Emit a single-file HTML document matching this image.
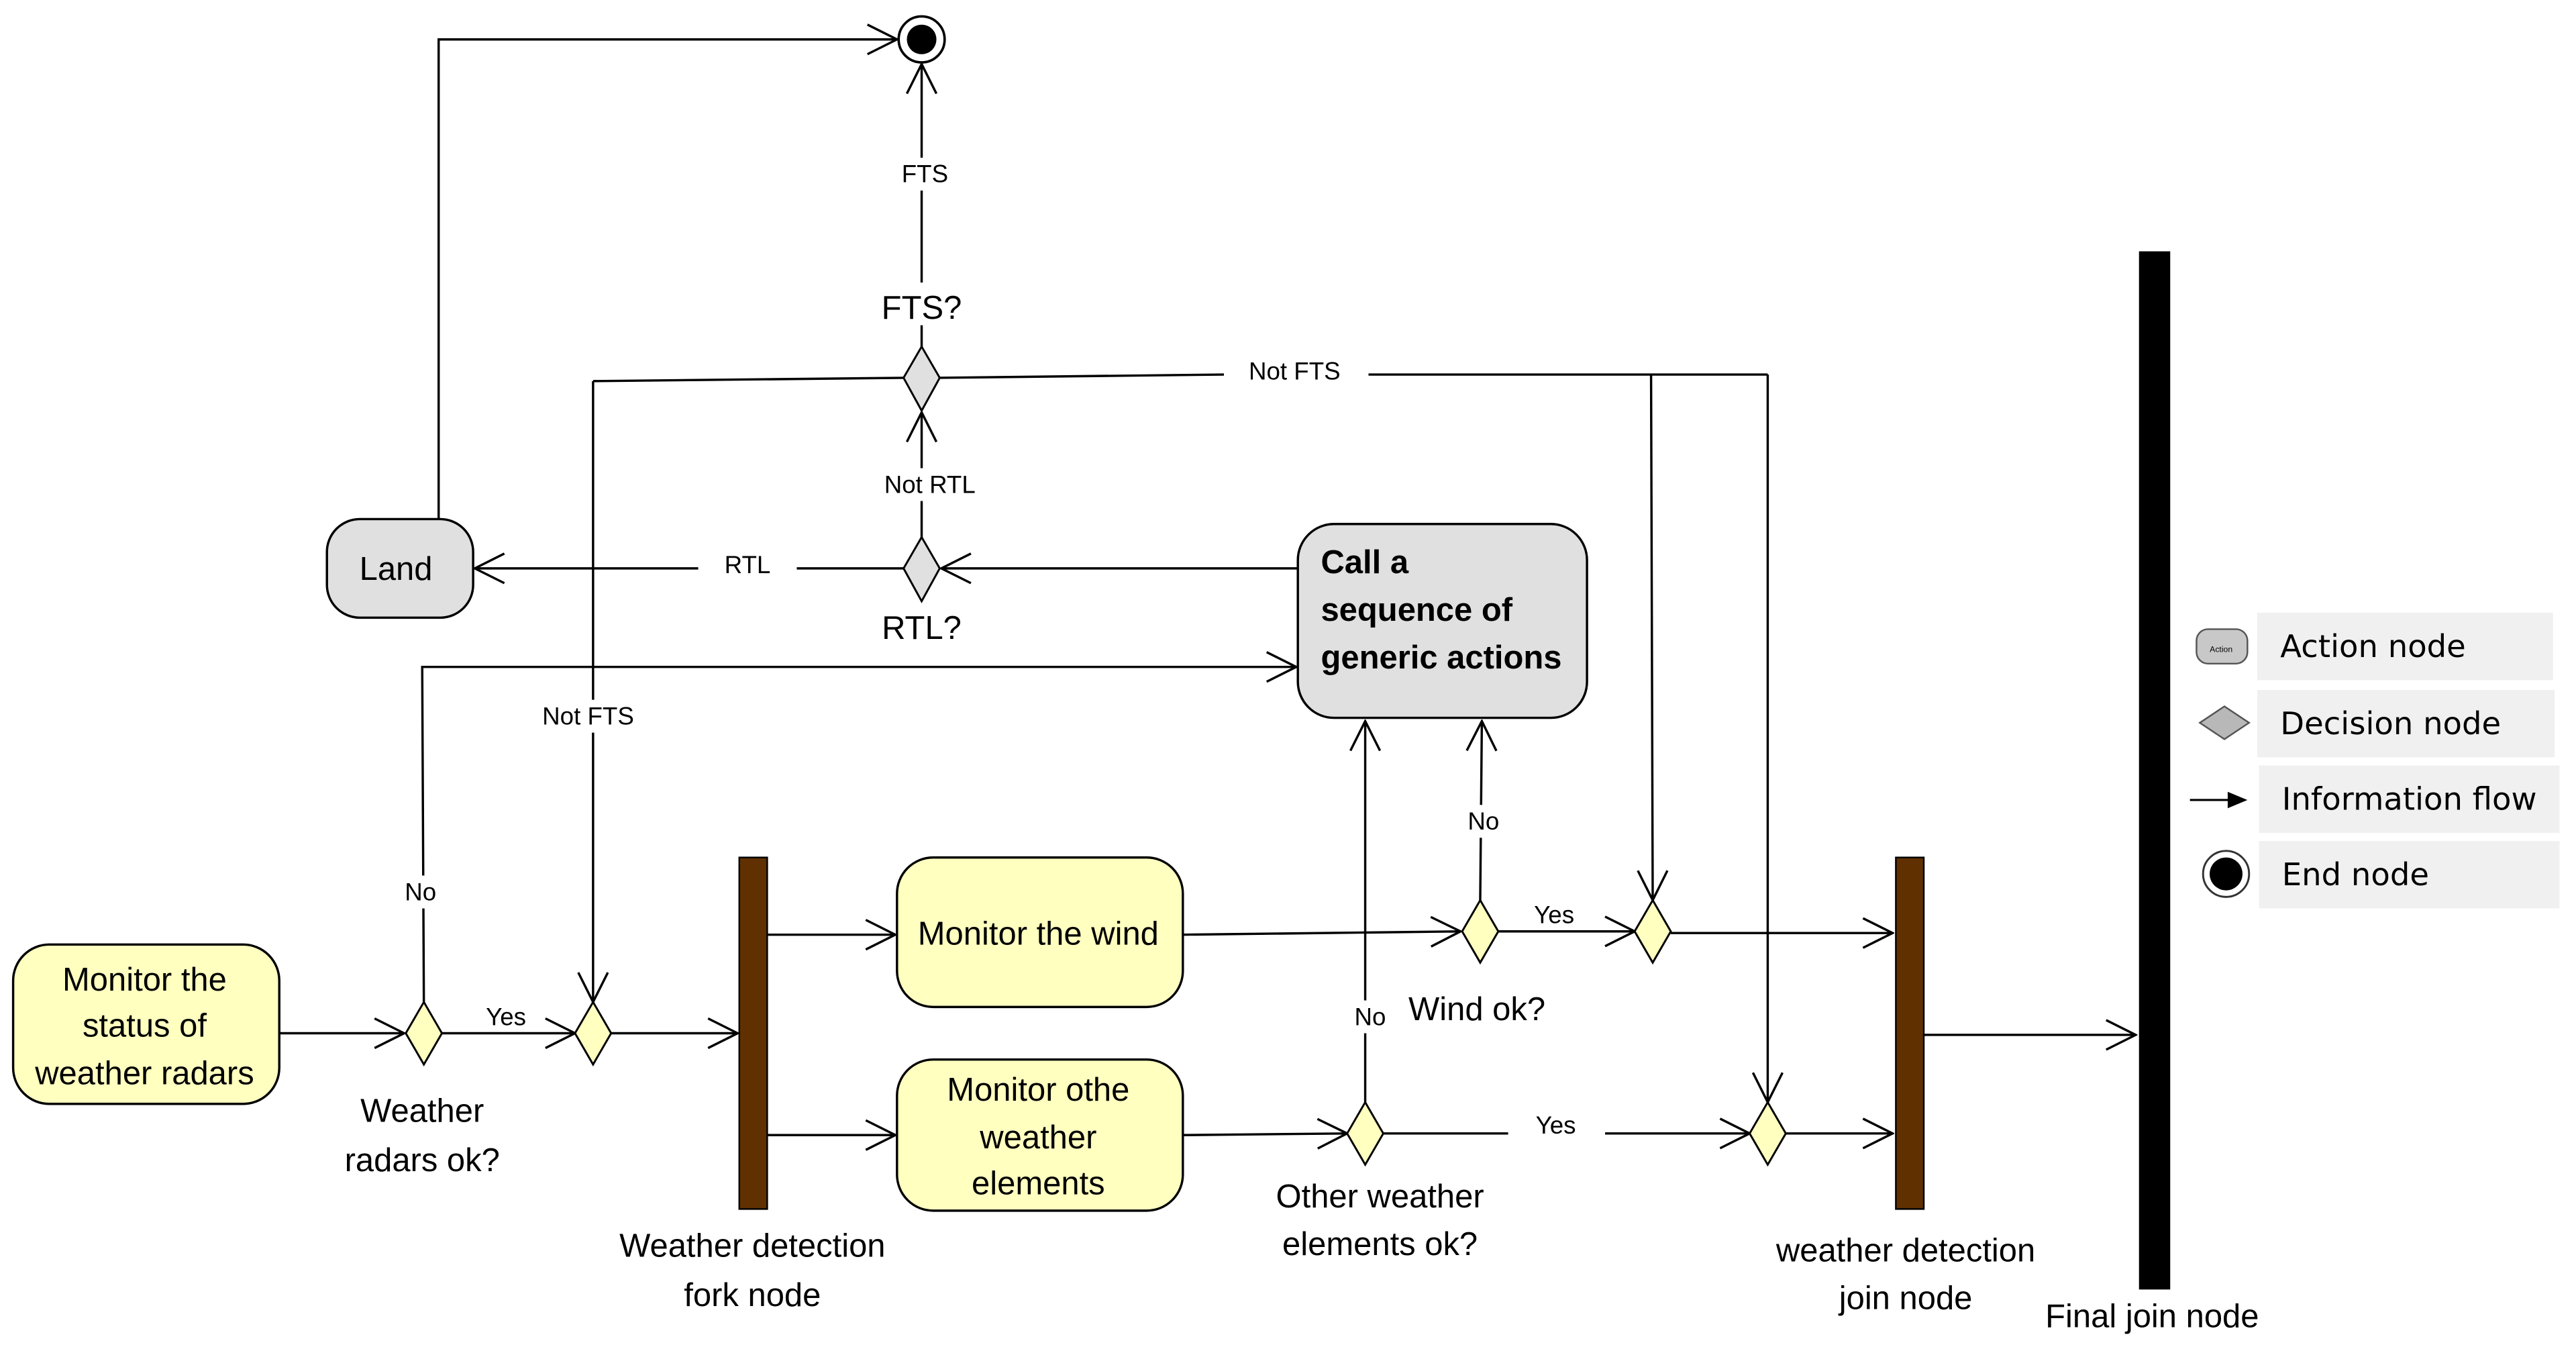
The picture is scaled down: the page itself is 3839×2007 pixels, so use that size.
<!DOCTYPE html>
<html><head><meta charset="utf-8"><style>
html,body{margin:0;padding:0;background:#fff;}
svg{display:block;}
text{font-family:"Liberation Sans",Arial,sans-serif;fill:#000;}
</style></head><body>
<svg width="3839" height="2007" viewBox="0 0 1568 820" preserveAspectRatio="none" xmlns="http://www.w3.org/2000/svg">
<defs>
<marker id="a" viewBox="0 0 20 20" refX="19" refY="10" markerWidth="20" markerHeight="20" markerUnits="userSpaceOnUse" orient="auto">
<path d="M1,1 L19,10 L1,19" fill="none" stroke="#000" stroke-width="1.4"/>
</marker>
</defs>
<g stroke="#000" stroke-width="1.4" fill="none">
<polyline points="267,316 267,24 546,24" marker-end="url(#a)"/>
<line x1="561" y1="212" x2="561" y2="39" marker-end="url(#a)"/>
<polyline points="361,232 551,230"/>
<line x1="571" y1="230" x2="745" y2="228"/>
<line x1="833" y1="228" x2="1076" y2="228"/>
<polyline points="1005,228 1006,548" marker-end="url(#a)"/>
<polyline points="1076,228 1076,671" marker-end="url(#a)"/>
<polyline points="361,232 361,610" marker-end="url(#a)"/>
<line x1="561" y1="328" x2="561" y2="251" marker-end="url(#a)"/>
<line x1="790" y1="346" x2="573" y2="346" marker-end="url(#a)"/>
<line x1="551" y1="346" x2="485" y2="346"/>
<line x1="425" y1="346" x2="289" y2="346" marker-end="url(#a)"/>
<polyline points="258,610 257,406 789,406" marker-end="url(#a)"/>
<line x1="170" y1="629" x2="246" y2="629" marker-end="url(#a)"/>
<line x1="269" y1="629" x2="350" y2="629" marker-end="url(#a)"/>
<line x1="372" y1="629" x2="449" y2="629" marker-end="url(#a)"/>
<line x1="467" y1="569" x2="545" y2="569" marker-end="url(#a)"/>
<line x1="467" y1="691" x2="545" y2="691" marker-end="url(#a)"/>
<line x1="720" y1="569" x2="889" y2="567" marker-end="url(#a)"/>
<line x1="911" y1="567" x2="995" y2="567" marker-end="url(#a)"/>
<line x1="1017" y1="568" x2="1152" y2="568" marker-end="url(#a)"/>
<line x1="901" y1="548" x2="902" y2="439" marker-end="url(#a)"/>
<line x1="720" y1="691" x2="820" y2="690" marker-end="url(#a)"/>
<line x1="831" y1="671" x2="831" y2="439" marker-end="url(#a)"/>
<line x1="842" y1="690" x2="918" y2="690"/>
<line x1="977" y1="690" x2="1065" y2="690" marker-end="url(#a)"/>
<line x1="1087" y1="690" x2="1152" y2="690" marker-end="url(#a)"/>
<line x1="1171" y1="630" x2="1300" y2="630" marker-end="url(#a)"/>
</g>
<g fill="#fff">
<rect x="546" y="96" width="34" height="20"/><rect x="531" y="285" width="70" height="20"/>
<rect x="242" y="533" width="28" height="20"/><rect x="325" y="426" width="68" height="20"/>
<rect x="889" y="490" width="28" height="20"/><rect x="820" y="609" width="28" height="20"/>
<rect x="534" y="172" width="54" height="26"/>
</g>
<circle cx="561" cy="24" r="14" fill="#fff" stroke="#000" stroke-width="1.5"/>
<circle cx="561" cy="24" r="9" fill="#000"/>
<g stroke="#000" stroke-width="1.2">
<polygon points="561,211 572,230 561,250 550,230" fill="#e0e0e0"/>
<polygon points="561,327 572,346 561,366 550,346" fill="#e0e0e0"/>
<polygon points="258,610 269,629 258,648 247,629" fill="#ffffc0"/>
<polygon points="361,610 372,629 361,648 350,629" fill="#ffffc0"/>
<polygon points="901,548 912,567 901,586 890,567" fill="#ffffc0"/>
<polygon points="1006,548 1017,567 1006,586 995,567" fill="#ffffc0"/>
<polygon points="831,671 842,690 831,709 820,690" fill="#ffffc0"/>
<polygon points="1076,671 1087,690 1076,709 1065,690" fill="#ffffc0"/>
</g>
<g stroke="#000" stroke-width="1.4">
<rect x="199" y="316" width="89" height="60" rx="20" fill="#e0e0e0"/>
<rect x="790" y="319" width="176" height="118" rx="22" fill="#e0e0e0"/>
<rect x="8" y="575" width="162" height="97" rx="22" fill="#ffffc0"/>
<rect x="546" y="522" width="174" height="91" rx="22" fill="#ffffc0"/>
<rect x="546" y="645" width="174" height="92" rx="22" fill="#ffffc0"/>
</g>
<rect x="450" y="522" width="17" height="214" fill="#603000" stroke="#000" stroke-width="1"/>
<rect x="1154" y="522" width="17" height="214" fill="#603000" stroke="#000" stroke-width="1"/>
<rect x="1302" y="153" width="19" height="632" fill="#000"/>
<g font-size="20" text-anchor="middle">
<text x="241" y="353">Land</text>
<text x="561" y="194">FTS?</text>
<text x="561" y="389">RTL?</text>
<text x="88" y="603">Monitor the</text><text x="88" y="631">status of</text><text x="88" y="660">weather radars</text>
<text x="632" y="575">Monitor the wind</text>
<text x="632" y="670">Monitor othe</text><text x="632" y="699">weather</text><text x="632" y="727">elements</text>
<text x="257" y="683">Weather</text><text x="257" y="713">radars ok?</text>
<text x="899" y="621">Wind ok?</text>
<text x="840" y="735">Other weather</text><text x="840" y="764">elements ok?</text>
<text x="458" y="765">Weather detection</text><text x="458" y="795">fork node</text>
<text x="1160" y="768">weather detection</text><text x="1160" y="797">join node</text>
<text x="1310" y="808">Final join node</text>
</g>
<g font-size="20" font-weight="bold">
<text x="804" y="349">Call a</text><text x="804" y="378">sequence of</text><text x="804" y="407">generic actions</text>
</g>
<g font-size="15" text-anchor="middle">
<text x="563" y="111">FTS</text>
<text x="788" y="231">Not FTS</text>
<text x="566" y="300">Not RTL</text>
<text x="455" y="349">RTL</text>
<text x="358" y="441">Not FTS</text>
<text x="256" y="548">No</text>
<text x="308" y="624">Yes</text>
<text x="903" y="505">No</text>
<text x="946" y="562">Yes</text>
<text x="834" y="624">No</text>
<text x="947" y="690">Yes</text>
</g>
<g fill="#f0f0f0">
<rect x="1374" y="373" width="180" height="41"/><rect x="1374" y="420" width="181" height="41"/>
<rect x="1375" y="466" width="183" height="41"/><rect x="1375" y="512" width="183" height="41"/>
</g>
<rect x="1337" y="383" width="31" height="21" rx="7" fill="#c8c8c8" stroke="#555" stroke-width="1"/>
<text x="1352" y="397" font-size="5" text-anchor="middle">Action</text>
<polygon points="1339,440 1354,430 1369,440 1354,450" fill="#b8b8b8" stroke="#555" stroke-width="1"/>
<line x1="1333" y1="487" x2="1358" y2="487" stroke="#000" stroke-width="1.3"/>
<polygon points="1356,482 1368,487 1356,492" fill="#000"/>
<circle cx="1355" cy="532" r="14" fill="#fff" stroke="#333" stroke-width="1.2"/>
<circle cx="1355" cy="532" r="10" fill="#000"/>
<g font-size="19">
<text x="1388" y="400" style="font-family:'DejaVu Sans',sans-serif">Action node</text>
<text x="1388" y="447" style="font-family:'DejaVu Sans',sans-serif">Decision node</text>
<text x="1389" y="493" style="font-family:'DejaVu Sans',sans-serif">Information flow</text>
<text x="1389" y="539" style="font-family:'DejaVu Sans',sans-serif">End node</text>
</g>
</svg>
</body></html>
